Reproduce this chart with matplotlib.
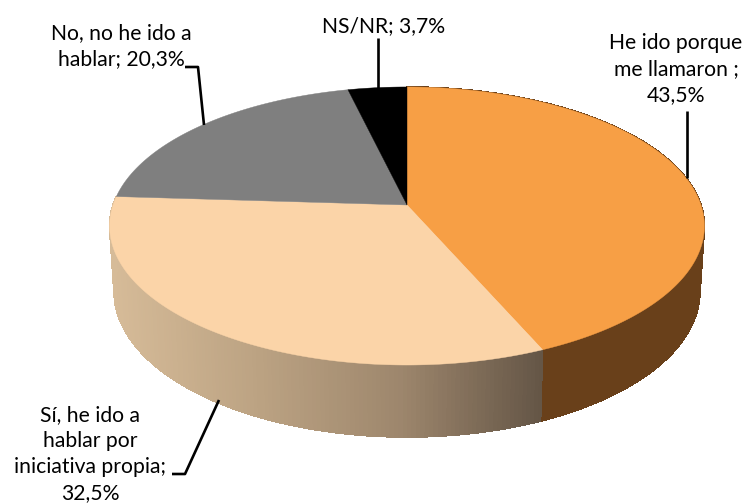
import numpy as np
import matplotlib
matplotlib.use('Agg')
import matplotlib.pyplot as plt
import matplotlib.colors as mcolors

# Data
labels = ['He ido porque\nme llamaron ;\n43,5%',
          'Sí, he ido a\nhablar por\niniciativa propia;\n32,5%',
          'No, no he ido a\nhablar; 20,3%',
          'NS/NR; 3,7%']
values = [43.5, 32.5, 20.3, 3.7]
top_colors = ['#F79F45', '#FBD4A8', '#7F7F7F', '#000000']

# pie projected with perspective, in pixels
cx, cy = 407, 205
k = 294
c = 0.151
a = -104.9


def top_rim(t):
    u, v = np.sin(t), np.cos(t)
    w = c*v + 1
    return cx + k*u/w, (a*v + cy)/w


def low_rim(t):
    x, y = top_rim(t)
    v = np.cos(t)
    return cx + (x - cx)*0.985, y + 64 - 8*v


tan_cmap = mcolors.LinearSegmentedColormap.from_list(
    '', ['#D6BB98', '#BCA383', '#9E876D', '#645546'])

fig = plt.figure(figsize=(7.45, 5.03), dpi=100)
ax = fig.add_axes([0, 0, 1, 1])
ax.set_xlim(0, 745)
ax.set_ylim(503, 0)
ax.axis('off')

edges = np.cumsum([0] + values)/100*2*np.pi

# side of the orange and tan slices
for i, col in [(0, '#69401A'), (1, None)]:
    ts = np.linspace(edges[i], edges[i+1], 160)
    for j in range(len(ts)-1):
        seg = np.array([ts[j], ts[j+1]+0.002])
        x1, y1 = top_rim(seg)
        x2, y2 = low_rim(seg)
        if col is None:
            fc = tan_cmap((x1[0]-110)/(545-110))
        else:
            fc = col
        ax.fill(np.r_[x1, x2[::-1]], np.r_[y1, y2[::-1]], color=fc, lw=0.5, antialiased=False)

# top face
for i in range(len(values)):
    ts = np.linspace(edges[i], edges[i+1], 200)
    x, y = top_rim(ts)
    ax.fill(np.r_[cx, x], np.r_[cy, y], color=top_colors[i], lw=0.3)

# leader lines
ax.plot([687, 687], [111, 178], color='black', lw=1.9, solid_capstyle='butt')
ax.plot([172, 185, 219], [474, 474, 400], color='black', lw=1.9, solid_capstyle='butt')
ax.plot([185, 198, 204], [67, 67, 125], color='black', lw=1.9, solid_capstyle='butt')
ax.plot([378, 378], [38, 88], color='black', lw=1.9, solid_capstyle='butt')

font = dict(family='Lato', fontsize=15.2, color='black', ha='center', va='center', linespacing=1.36)
ax.text(676, 69, labels[0], **font)
ax.text(90, 454, labels[1], **font)
ax.text(121, 46, labels[2], **font)
ax.text(384, 26, labels[3], **font)

fig.savefig('out.png', dpi=100)
